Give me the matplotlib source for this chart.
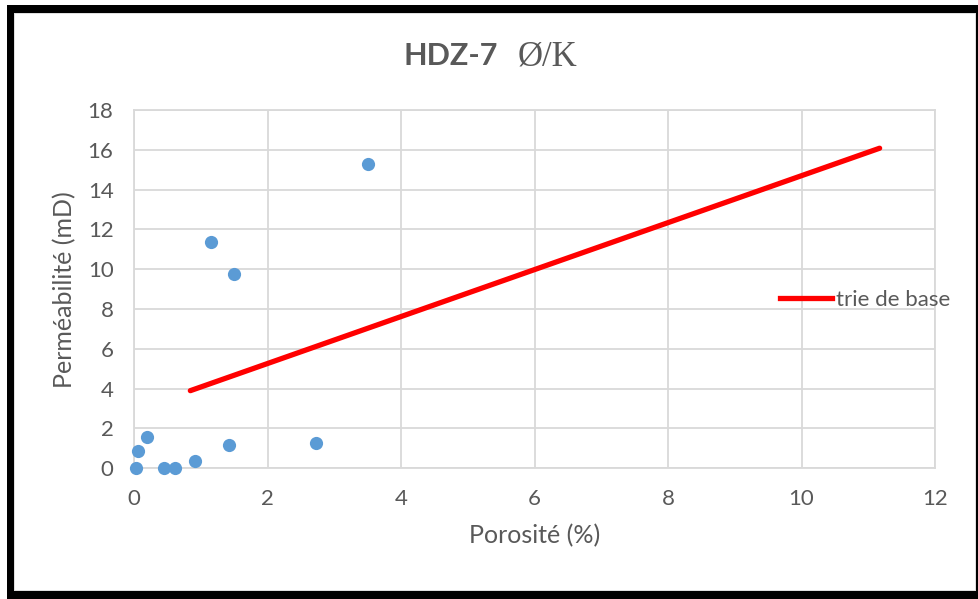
import matplotlib
matplotlib.use("Agg")
import matplotlib.pyplot as plt
from matplotlib.patches import Rectangle
from matplotlib.lines import Line2D

# Data
porosite = [0.03, 0.06, 0.19, 0.45, 0.61, 0.91, 1.42, 2.72, 1.15, 1.49, 3.50]
permeabilite = [0.0, 0.87, 1.57, 0.0, 0.0, 0.39, 1.19, 1.27, 11.38, 9.78, 15.30]
trend_x = [0.84, 11.17]
trend_y = [3.90, 16.08]
xticks = [0, 2, 4, 6, 8, 10, 12]
yticks = [0, 2, 4, 6, 8, 10, 12, 14, 16, 18]
legend_label = "trie de base"

W, H = 979, 599
fig = plt.figure(figsize=(W / 100, H / 100), dpi=100)
plt.rcParams['font.family'] = ['Lato', 'DejaVu Sans']

def fx(px):
    return px / W

def fy(py):
    return 1 - py / H

grey_txt = '#595959'
grid_c = '#d9d9d9'

ax = fig.add_axes([fx(134.3), fy(468.3), fx(935) - fx(134.3), fy(110) - fy(468.3)])
ax.set_xlim(0, 12)
ax.set_ylim(0, 18)
ax.set_xticks(xticks)
ax.set_yticks(yticks)
ax.grid(True, color=grid_c, lw=1.3)
ax.set_axisbelow(True)
for s in ax.spines.values():
    s.set_color(grid_c)
    s.set_linewidth(1.3)
ax.tick_params(length=0, labelsize=16, labelcolor=grey_txt)
ax.tick_params(axis='y', pad=15)
ax.tick_params(axis='x', pad=15)

ax.plot(trend_x, trend_y, color='#ff0000', lw=3.8, solid_capstyle='round', zorder=3)
ax.scatter(porosite, permeabilite, s=9.5 ** 2, color='#5b9bd5', zorder=4, clip_on=False, linewidths=0)

ax.set_xlabel('Porosité (%)', fontsize=18, color=grey_txt, labelpad=11)
ax.set_ylabel('Perméabilité (mD)', fontsize=18, color=grey_txt, labelpad=8)

# Title
fig.text(fx(498), fy(65), 'HDZ-7', ha='right', va='baseline', fontsize=22,
         fontweight='bold', color=grey_txt)
fig.text(fx(518), fy(65), 'Ø/K', ha='left', va='baseline', fontsize=25,
         family=['Liberation Serif', 'DejaVu Serif'], color=grey_txt)

# Legend
h = Line2D([0], [0], color='#ff0000', lw=3.8)
fs = 16
fig.legend([h], [legend_label], loc='center left',
           bbox_to_anchor=(fx(780), fy(300)), bbox_transform=fig.transFigure,
           frameon=False, fontsize=fs, labelcolor=grey_txt,
           borderpad=0, borderaxespad=0, handlelength=52 / (fs * 100 / 72),
           handletextpad=4 / (fs * 100 / 72))

# Frame
fig.add_artist(Rectangle((fx(14), fy(591)), fx(976) - fx(14), fy(13) - fy(591),
                         transform=fig.transFigure, fill=False, edgecolor=grid_c, lw=1.2))
for (x0, y0, x1, y1) in [(7, 5, 14, 599), (7, 5, 979, 13), (7, 591, 979, 599), (976, 5, 979, 599)]:
    fig.add_artist(Rectangle((fx(x0), fy(y1)), fx(x1) - fx(x0), fy(y0) - fy(y1),
                             transform=fig.transFigure, color='black', lw=0))

fig.savefig('out.png', dpi=100)
